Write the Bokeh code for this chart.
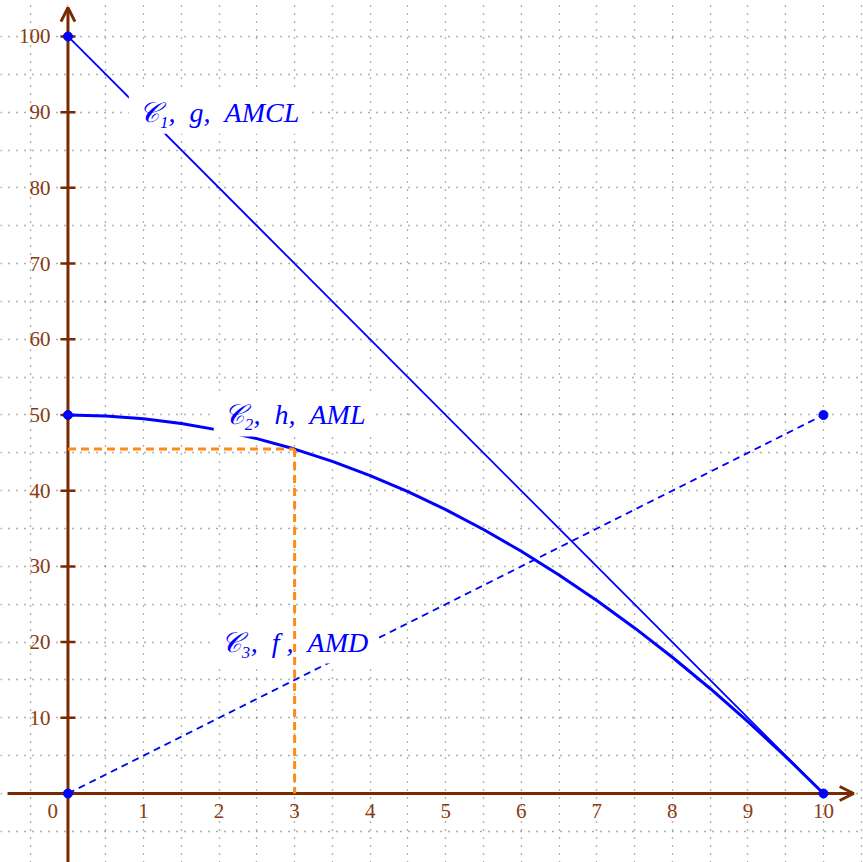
import numpy as np
from bokeh.plotting import figure
from bokeh.models import Arrow, OpenHead, FixedTicker
from bokeh.core.properties import value
from bokeh.embed import file_html
from bokeh.resources import INLINE

# Curve C1: g, straight line between its end points
g_x = [0, 10]
g_y = [100, 0]

# Curve C2: h, sampled every half unit
h_x = [0, 0.5, 1, 1.5, 2, 2.5, 3, 3.5, 4, 4.5, 5, 5.5, 6, 6.5, 7, 7.5, 8, 8.5, 9, 9.5, 10]
h_y = [50, 49.875, 49.5, 48.875, 48, 46.875, 45.5, 43.875, 42, 39.875, 37.5,
       34.875, 32, 28.875, 25.5, 21.875, 18, 13.875, 9.5, 4.875, 0]

# Curve C3: f, straight line
f_x = [0, 10]
f_y = [0, 50]

# Marked points
pt_x = [0, 0, 0, 10, 10]
pt_y = [100, 50, 0, 0, 50]

# Reading at x = 3 on h
read_x = 3
read_y = 45.5

x_tick_vals = [1, 2, 3, 4, 5, 6, 7, 8, 9, 10]
y_tick_vals = [10, 20, 30, 40, 50, 60, 70, 80, 90, 100]

SP = "\u00a0\u00a0"  # wide gap kept by the svg text
curve_labels = ["𝒞₁," + SP + "g," + SP + "AMCL",
                "𝒞₂," + SP + "h," + SP + "AML",
                "𝒞₃," + SP + "f\u00a0," + SP + "AMD"]

AXIS = "#7a2a00"
TICK_TXT = "#8b3a12"
BLUE = "#0000ff"
ORANGE = "#ff8a14"

p = figure(width=863, height=862, x_range=(-0.893, 10.53), y_range=(-9.11, 104.75),
           x_axis_location=None, y_axis_location=None, toolbar_location=None,
           output_backend="svg", min_border=0, outline_line_color=None,
           background_fill_color="white", border_fill_color="white")

# dotted background grid, half unit in x, five units in y
p.xgrid.ticker = FixedTicker(ticks=list(np.arange(-0.5, 10.75, 0.5)))
p.ygrid.ticker = FixedTicker(ticks=list(np.arange(-5, 106, 5)))
for gr in (p.xgrid, p.ygrid):
    gr.grid_line_color = "#606060"
    gr.grid_line_width = 1.3
    gr.grid_line_dash = "1 7"

# axes with arrow heads, kept beneath the curves and points
p.add_layout(Arrow(end=OpenHead(size=14, line_color=AXIS, line_width=3),
                   x_start=-0.80, y_start=0, x_end=10.4, y_end=0,
                   line_color=AXIS, line_width=3, level="underlay"))
p.add_layout(Arrow(end=OpenHead(size=14, line_color=AXIS, line_width=3),
                   x_start=0, y_start=-9.2, x_end=0, y_end=103.8,
                   line_color=AXIS, line_width=3, level="underlay"))

# y tick marks
p.segment(x0=[-0.1] * len(y_tick_vals), y0=y_tick_vals,
          x1=[0.1] * len(y_tick_vals), y1=y_tick_vals,
          line_color=AXIS, line_width=2.5)

# curves
p.line(g_x, g_y, line_color=BLUE, line_width=1.8)
p.line(h_x, h_y, line_color=BLUE, line_width=3)
p.line(f_x, f_y, line_color=BLUE, line_width=1.8, line_dash="7 5")

# curve names on white boxes
p.text(x=[2.0, 3.0, 3.0], y=[90, 50, 20], text=curve_labels,
       text_align="center", text_baseline="middle",
       text_font=value("Liberation Serif"), text_font_style="italic",
       text_font_size="28px", text_color=BLUE,
       background_fill_color="white", padding=[10, 10, 6, 6])

# reading guides
p.line([0, read_x], [read_y, read_y], line_color=ORANGE, line_width=3, line_dash="8 5")
p.line([read_x, read_x], [read_y, 0], line_color=ORANGE, line_width=3, line_dash="8 5")

# tick labels
p.text(x=x_tick_vals, y=[-2.25] * len(x_tick_vals), text=[str(v) for v in x_tick_vals],
       text_align="center", text_baseline="middle",
       text_font=value("Liberation Serif"), text_font_size="21px", text_color=TICK_TXT)
p.text(x=[-0.23] * len(y_tick_vals), y=y_tick_vals, text=[str(v) for v in y_tick_vals],
       text_align="right", text_baseline="middle",
       text_font=value("Liberation Serif"), text_font_size="21px", text_color=TICK_TXT)
p.text(x=[-0.2], y=[-2.25], text=["0"], text_align="center", text_baseline="middle",
       text_font=value("Liberation Serif"), text_font_size="21px", text_color=TICK_TXT)

# marked points
p.scatter(pt_x, pt_y, size=9, fill_color=BLUE, line_color=BLUE)

open("out.html", "w").write(file_html(p, INLINE))
